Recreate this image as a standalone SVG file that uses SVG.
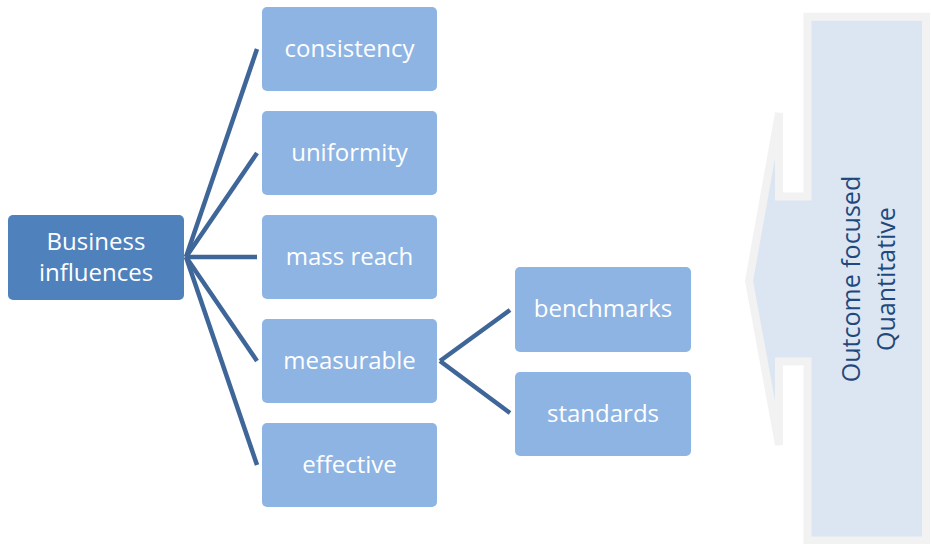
<svg xmlns="http://www.w3.org/2000/svg" width="931" height="544" viewBox="0 0 931 544">
<style>
.root{fill:#4F81BD}
.box{fill:#8EB4E3}
.lbl{font-family:"Open Sans","Liberation Sans",sans-serif;font-size:24px;fill:#FFFFFF;text-anchor:middle}
.side{font-family:"Open Sans","Liberation Sans",sans-serif;font-size:25px;fill:#1F497D;text-anchor:middle}
.conn{stroke:#3F6698;stroke-width:4.5;fill:none;stroke-linecap:butt}
</style>
<rect width="931" height="544" fill="#FFFFFF"/>
<g id="callout">
<path d="M807.5,16.7 L926,16.7 L926,540.5 L807.5,540.5 L807.5,361.5 L779,361.5 L779,445 L749,281 L779,113 L779,196.5 L807.5,196.5 Z" fill="#DCE6F2" stroke="#F2F2F2" stroke-width="8" stroke-linejoin="miter"/>
<text class="side" transform="translate(860,279) rotate(-90)">Outcome focused</text>
<text class="side" transform="translate(895,279) rotate(-90)">Quantitative</text>
</g>
<g id="connectors">
<line class="conn" x1="186" y1="257" x2="257" y2="49"/>
<line class="conn" x1="186" y1="257" x2="257" y2="153"/>
<line class="conn" x1="186" y1="257" x2="257" y2="257"/>
<line class="conn" x1="186" y1="257" x2="257" y2="361"/>
<line class="conn" x1="186" y1="257" x2="257" y2="465"/>
<line class="conn" x1="440" y1="361" x2="510" y2="310"/>
<line class="conn" x1="440" y1="361" x2="510" y2="413"/>
</g>
<g id="business">
<rect class="root" x="8" y="215" width="176" height="85" rx="5"/>
<text class="lbl" x="96" y="250">Business</text>
<text class="lbl" x="96" y="281">influences</text>
</g>
<g id="consistency">
<rect class="box" x="262" y="7" width="175" height="84" rx="5"/>
<text class="lbl" x="349.5" y="57">consistency</text>
</g>
<g id="uniformity">
<rect class="box" x="262" y="111" width="175" height="84" rx="5"/>
<text class="lbl" x="349.5" y="161">uniformity</text>
</g>
<g id="massreach">
<rect class="box" x="262" y="215" width="175" height="84" rx="5"/>
<text class="lbl" x="349.5" y="265">mass reach</text>
</g>
<g id="measurable">
<rect class="box" x="262" y="319" width="175" height="84" rx="5"/>
<text class="lbl" x="349.5" y="369">measurable</text>
</g>
<g id="effective">
<rect class="box" x="262" y="423" width="175" height="84" rx="5"/>
<text class="lbl" x="349.5" y="473">effective</text>
</g>
<g id="benchmarks">
<rect class="box" x="515" y="267" width="176" height="85" rx="5"/>
<text class="lbl" x="603" y="317">benchmarks</text>
</g>
<g id="standards">
<rect class="box" x="515" y="372" width="176" height="84" rx="5"/>
<text class="lbl" x="603" y="422">standards</text>
</g>
</svg>
